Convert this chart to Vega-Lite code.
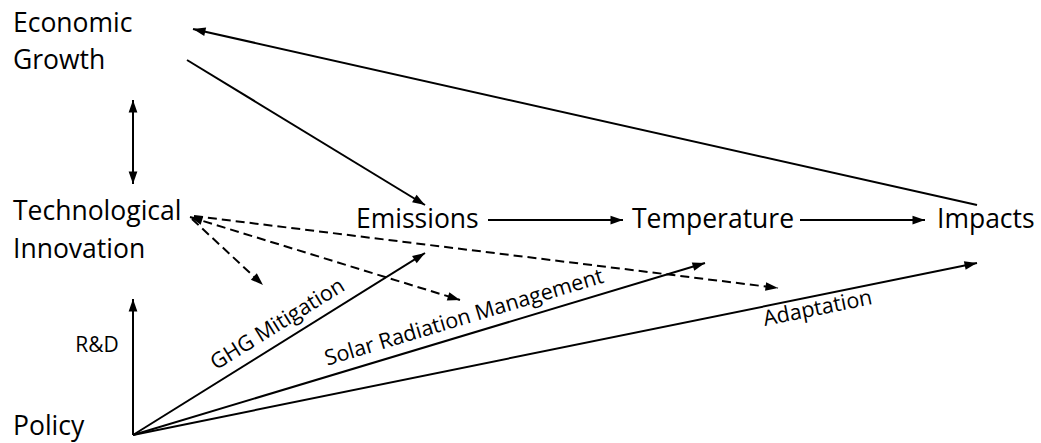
{
  "$schema": "https://vega.github.io/schema/vega-lite/v6.json",
  "width": 1041,
  "height": 443,
  "autosize": {"type": "fit", "contains": "padding"},
  "padding": 0,
  "background": "white",
  "config": {"view": {"stroke": null}, "font": "Open Sans"},
  "datasets": {
    "edges": [
      {"from": "Impacts", "to": "Economic Growth", "x": 977, "y": 205, "x2": 193, "y2": 29, "style": "solid", "heads": "end"},
      {"from": "Economic Growth", "to": "Emissions", "x": 187, "y": 60, "x2": 425, "y2": 205, "style": "solid", "heads": "end"},
      {"from": "Technological Innovation", "to": "Economic Growth", "x": 133, "y": 184, "x2": 133, "y2": 100, "style": "solid", "heads": "both"},
      {"from": "Emissions", "to": "Temperature", "x": 488, "y": 220, "x2": 623, "y2": 220, "style": "solid", "heads": "end"},
      {"from": "Temperature", "to": "Impacts", "x": 800, "y": 220, "x2": 925, "y2": 220, "style": "solid", "heads": "end"},
      {"from": "Policy", "to": "Technological Innovation", "x": 133, "y": 435, "x2": 133, "y2": 299, "style": "solid", "heads": "end"},
      {"from": "Policy", "to": "Emissions", "x": 133, "y": 435, "x2": 425, "y2": 253, "style": "solid", "heads": "end", "label": "GHG Mitigation", "lx": 281, "ly": 330},
      {"from": "Policy", "to": "Temperature", "x": 133, "y": 435, "x2": 705, "y2": 263, "style": "solid", "heads": "end", "label": "Solar Radiation Management", "lx": 466, "ly": 324},
      {"from": "Policy", "to": "Impacts", "x": 133, "y": 435, "x2": 977, "y2": 263, "style": "solid", "heads": "end", "label": "Adaptation", "lx": 819, "ly": 315},
      {"from": "Technological Innovation", "to": "GHG Mitigation", "x": 192, "y": 219, "x2": 263, "y2": 285, "style": "dashed", "heads": "end"},
      {"from": "Technological Innovation", "to": "Solar Radiation Management", "x": 190, "y": 217, "x2": 460, "y2": 300, "style": "dashed", "heads": "both"},
      {"from": "Technological Innovation", "to": "Adaptation", "x": 194, "y": 216, "x2": 778, "y2": 288, "style": "dashed", "heads": "end"}
    ],
    "labels": [
      {"text": "Economic", "x": 13, "y": 32, "role": "node"},
      {"text": "Growth", "x": 13, "y": 69, "role": "node"},
      {"text": "Technological", "x": 13, "y": 220, "role": "node"},
      {"text": "Innovation", "x": 13, "y": 258, "role": "node"},
      {"text": "Policy", "x": 13, "y": 435, "role": "node"},
      {"text": "Emissions", "x": 356, "y": 228, "role": "node"},
      {"text": "Temperature", "x": 632, "y": 228, "role": "node"},
      {"text": "Impacts", "x": 937, "y": 228, "role": "node"},
      {"text": "R&D", "x": 97, "y": 352, "role": "note"}
    ]
  },
  "layer": [
    {
      "data": {"name": "edges"},
      "transform": [{"filter": "datum.style === 'solid'"}],
      "mark": {"type": "rule", "color": "black", "strokeWidth": 2, "strokeCap": "butt"},
      "encoding": {
        "x": {"field": "x", "type": "quantitative", "scale": {"domain": [0, 1041], "nice": false, "zero": false}, "axis": null},
        "y": {"field": "y", "type": "quantitative", "scale": {"domain": [0, 443], "nice": false, "zero": false, "reverse": true}, "axis": null},
        "x2": {"field": "x2"},
        "y2": {"field": "y2"}
      }
    },
    {
      "data": {"name": "edges"},
      "transform": [{"filter": "datum.style === 'dashed'"}],
      "mark": {"type": "rule", "color": "black", "strokeWidth": 2, "strokeCap": "butt", "strokeDash": [9, 5]},
      "encoding": {
        "x": {"field": "x", "type": "quantitative", "axis": null},
        "y": {"field": "y", "type": "quantitative", "axis": null},
        "x2": {"field": "x2"},
        "y2": {"field": "y2"}
      }
    },
    {
      "data": {"name": "edges"},
      "transform": [{"calculate": "atan2(datum.y2 - datum.y, datum.x2 - datum.x) * 180 / PI", "as": "ang"}],
      "mark": {"type": "point", "shape": "M0,0L-1,-0.35L-1,0.35Z", "size": 625, "filled": true, "color": "black", "opacity": 1, "strokeWidth": 0},
      "encoding": {
        "x": {"field": "x2", "type": "quantitative", "axis": null},
        "y": {"field": "y2", "type": "quantitative", "axis": null},
        "angle": {"field": "ang", "type": "quantitative", "scale": null}
      }
    },
    {
      "data": {"name": "edges"},
      "transform": [
        {"filter": "datum.heads === 'both'"},
        {"calculate": "atan2(datum.y - datum.y2, datum.x - datum.x2) * 180 / PI", "as": "ang"}
      ],
      "mark": {"type": "point", "shape": "M0,0L-1,-0.35L-1,0.35Z", "size": 625, "filled": true, "color": "black", "opacity": 1, "strokeWidth": 0},
      "encoding": {
        "x": {"field": "x", "type": "quantitative", "axis": null},
        "y": {"field": "y", "type": "quantitative", "axis": null},
        "angle": {"field": "ang", "type": "quantitative", "scale": null}
      }
    },
    {
      "data": {"name": "edges"},
      "transform": [
        {"filter": "isValid(datum.label)"},
        {"calculate": "atan2(datum.y2 - datum.y, datum.x2 - datum.x) * 180 / PI", "as": "ang"}
      ],
      "mark": {"type": "text", "fontSize": 21.5, "align": "center", "baseline": "alphabetic", "color": "black", "font": "Open Sans"},
      "encoding": {
        "x": {"field": "lx", "type": "quantitative", "axis": null},
        "y": {"field": "ly", "type": "quantitative", "axis": null},
        "text": {"field": "label"},
        "angle": {"field": "ang", "type": "quantitative", "scale": null}
      }
    },
    {
      "data": {"name": "labels"},
      "transform": [{"filter": "datum.role === 'node'"}],
      "mark": {"type": "text", "fontSize": 26.5, "align": "left", "baseline": "alphabetic", "color": "black", "font": "Open Sans"},
      "encoding": {
        "x": {"field": "x", "type": "quantitative", "axis": null},
        "y": {"field": "y", "type": "quantitative", "axis": null},
        "text": {"field": "text"}
      }
    },
    {
      "data": {"name": "labels"},
      "transform": [{"filter": "datum.role === 'note'"}],
      "mark": {"type": "text", "fontSize": 21, "align": "center", "baseline": "alphabetic", "color": "black", "font": "Open Sans"},
      "encoding": {
        "x": {"field": "x", "type": "quantitative", "axis": null},
        "y": {"field": "y", "type": "quantitative", "axis": null},
        "text": {"field": "text"}
      }
    }
  ]
}
